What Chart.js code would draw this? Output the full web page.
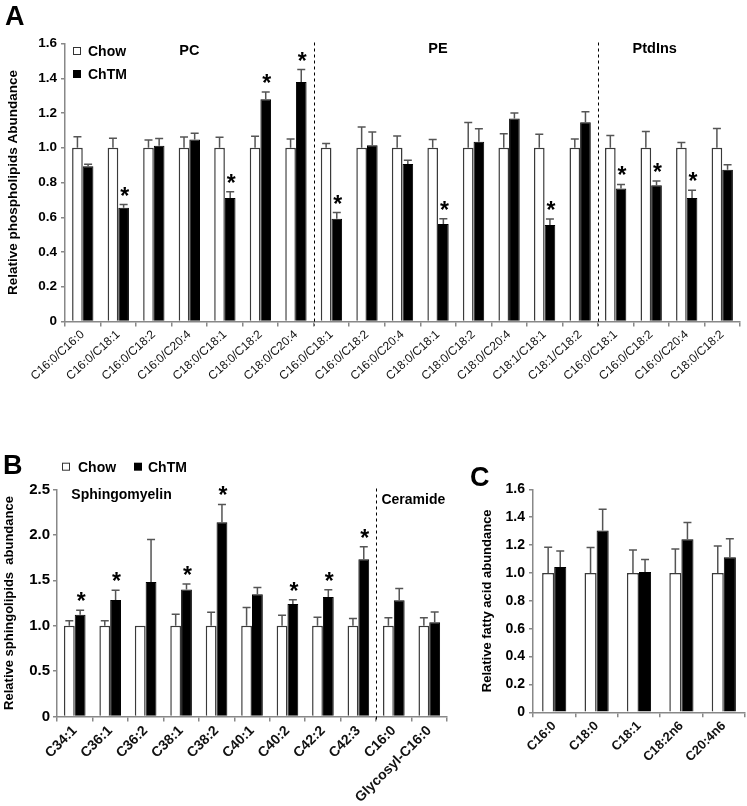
<!DOCTYPE html>
<html><head><meta charset="utf-8">
<script src="https://cdn.jsdelivr.net/npm/chart.js@4.4.0/dist/chart.umd.min.js"></script>
<style>
html,body{margin:0;padding:0;background:#fff;width:747px;height:806px;overflow:hidden;position:relative;}
canvas{position:absolute;}
.lbl{position:absolute;font:bold 27px "Liberation Sans",Arial,sans-serif;line-height:1;color:#000;}
</style></head><body>
<canvas id="cA" width="747" height="400" style="left:0;top:0"></canvas>
<canvas id="cB" width="480" height="366" style="left:0;top:440px"></canvas>
<canvas id="cC" width="277" height="366" style="left:470px;top:440px"></canvas>
<div class="lbl" style="left:5px;top:3px">A</div>
<div class="lbl" style="left:3px;top:452px">B</div>
<div class="lbl" style="left:470px;top:464px">C</div>
<script>
// ---------- Panel A: phospholipids ----------
const catsA = ['C16:0/C16:0','C16:0/C18:1','C16:0/C18:2','C16:0/C20:4','C18:0/C18:1','C18:0/C18:2','C18:0/C20:4',
  'C16:0/C18:1','C16:0/C18:2','C16:0/C20:4','C18:0/C18:1','C18:0/C18:2','C18:0/C20:4','C18:1/C18:1','C18:1/C18:2',
  'C16:0/C18:1','C16:0/C18:2','C16:0/C20:4','C18:0/C18:2'];
const chowA    = [1,1,1,1,1,1,1, 1,1,1,1,1,1,1,1, 1,1,1,1];
const chowErrA = [0.063,0.055,0.045,0.062,0.060,0.066,0.050, 0.025,0.120,0.068,0.047,0.146,0.080,0.078,0.050, 0.070,0.094,0.030,0.111];
const chtmA    = [0.893,0.655,1.012,1.048,0.711,1.279,1.378, 0.591,1.014,0.906,0.561,1.035,1.168,0.555,1.147, 0.766,0.784,0.711,0.874];
const chtmErrA = [0.012,0.018,0.041,0.036,0.036,0.042,0.072, 0.036,0.077,0.022,0.031,0.075,0.032,0.035,0.060, 0.023,0.024,0.044,0.028];
const sigA     = [0,1,0,0,1,1,1, 1,0,0,1,0,0,1,0, 1,1,1,0];
const groupsA  = ['PC','PE','PtdIns'];

// ---------- Panel B: sphingolipids ----------
const catsB    = ['C34:1','C36:1','C36:2','C38:1','C38:2','C40:1','C40:2','C42:2','C42:3','C16:0','Glycosyl-C16:0'];
const chowB    = [1,1,1,1,1,1,1,1,1,1,1];
const chowErrB = [0.055,0.055,0,0.125,0.147,0.200,0.114,0.092,0.080,0.088,0.088];
const chtmB    = [1.120,1.283,1.480,1.400,2.140,1.345,1.240,1.315,1.733,1.280,1.037];
const chtmErrB = [0.050,0.107,0.470,0.060,0.195,0.075,0.046,0.081,0.137,0.130,0.113];
const sigB     = [1,1,0,1,1,0,1,1,1,0,0];
const groupsB  = ['Sphingomyelin','Ceramide'];

// ---------- Panel C: fatty acids ----------
const catsC    = ['C16:0','C18:0','C18:1','C18:2n6','C20:4n6'];
const chowC    = [1,1,1,1,1];
const chowErrC = [0.184,0.182,0.165,0.172,0.194];
const chtmC    = [1.043,1.304,1.007,1.242,1.112];
const chtmErrC = [0.115,0.153,0.089,0.119,0.134];

const seriesNames = ['Chow','ChTM'];

const FF = '"Liberation Sans", Arial, Helvetica, sans-serif';

function overlay(o){
  return {
    id:'overlay',
    afterDatasetsDraw(chart){
      const ctx = chart.ctx, ys = chart.scales.y, xs = chart.scales.x, ca = chart.chartArea;
      ctx.save();
      // dividers
      ctx.strokeStyle = '#000'; ctx.lineWidth = 1; ctx.setLineDash([3,3]);
      (o.dividers||[]).forEach(k=>{
        const x = Math.round((xs.getPixelForValue(k-1)+xs.getPixelForValue(k))/2)+0.5;
        ctx.beginPath(); ctx.moveTo(x, ca.top-1); ctx.lineTo(x, ca.bottom+4); ctx.stroke();
      });
      ctx.setLineDash([]);
      // error bars
      chart.data.datasets.forEach((ds,i)=>{
        const meta = chart.getDatasetMeta(i);
        meta.data.forEach((bar,j)=>{
          const e = ds.errs[j]; if(!e) return;
          const yt = ys.getPixelForValue(ds.data[j]+e);
          ctx.strokeStyle = '#555'; ctx.lineWidth = 1.5;
          ctx.beginPath();
          ctx.moveTo(bar.x, bar.y); ctx.lineTo(bar.x, yt);
          ctx.moveTo(bar.x-4, yt); ctx.lineTo(bar.x+4, yt);
          ctx.stroke();
          if(ds.sig && ds.sig[j]){
            ctx.fillStyle = '#000';
            ctx.font = 'bold 23px '+FF;
            ctx.textAlign = 'center'; ctx.textBaseline = 'alphabetic';
            ctx.fillText('*', bar.x+1, yt-1);
          }
        });
      });
      // group labels
      ctx.fillStyle = '#000'; ctx.textBaseline = 'middle'; ctx.textAlign = 'center';
      (o.groups||[]).forEach(g=>{
        ctx.font = 'bold '+g.size+'px '+FF;
        ctx.fillText(g.text, xs.getPixelForValue(g.at), ca.top+g.dy);
      });
      // legend
      if(o.legend){
        ctx.font = 'bold 14px '+FF; ctx.textAlign='left'; ctx.textBaseline='middle';
        o.legend.forEach((L,i)=>{
          const s = 8;
          ctx.lineWidth = 1;
          if(i===0){ ctx.fillStyle='#fff'; ctx.fillRect(L.x, L.y-s/2, s, s); ctx.strokeStyle='#333'; ctx.strokeRect(L.x+0.5, L.y-s/2+0.5, s-1, s-1); }
          else { ctx.fillStyle='#000'; ctx.fillRect(L.x, L.y-s/2, s, s); }
          ctx.fillStyle='#000';
          ctx.fillText(seriesNames[i], L.tx, L.y+1);
        });
      }
      ctx.restore();
    }
  };
}

function build(id, o){
  return new Chart(document.getElementById(id), {
    type:'bar',
    data:{ labels:o.labels, datasets:[
      {label:seriesNames[0], data:o.chow, errs:o.chowErr, backgroundColor:'#fff', borderColor:'#3a3a3a', borderWidth:1.5,
       categoryPercentage:o.cp, barPercentage:1},
      {label:seriesNames[1], data:o.chtm, errs:o.chtmErr, sig:o.sig, backgroundColor:'#000', borderColor:'#000', borderWidth:1,
       categoryPercentage:o.cp, barPercentage:1}
    ]},
    options:{
      responsive:false, animation:false, devicePixelRatio:1,
      layout:{padding:o.pad},
      plugins:{legend:{display:false}, tooltip:{enabled:false}},
      scales:{
        x:{
          grid:{offset:true, drawOnChartArea:false, tickLength:5, color:'#888', lineWidth:1.5},
          border:{color:'#888', width:1.5},
          ticks:{color:'#111', font:o.xFont, minRotation:o.rot, maxRotation:o.rot, autoSkip:false, padding:1},
          afterFit(s){ s.height = o.xH; }
        },
        y:{
          min:0, max:o.max,
          grid:{drawOnChartArea:false, tickLength:4, color:'#888', lineWidth:1.5},
          border:{color:'#888', width:1.5},
          ticks:{stepSize:o.step, color:'#000', font:o.yFont, padding:o.yPad, callback:v=> v===0 ? '0' : v.toFixed(1)},
          title:{display:true, text:o.yTitle, color:'#000', font:o.tFont, padding:{top:o.tPad, bottom:0}},
          afterFit(s){ s.width = o.yW; }
        }
      }
    },
    plugins:[overlay(o)]
  });
}

build('cA', {
  labels:catsA, chow:chowA, chowErr:chowErrA, chtm:chtmA, chtmErr:chtmErrA, sig:sigA,
  cp:0.6, pad:{left:0, right:7, top:43.5, bottom:0}, xH:78.5, yW:65,
  rot:42, xFont:{family:FF, size:12}, max:1.6, step:0.2, yFont:{family:FF, size:13.5, weight:'bold'}, yPad:4,
  yTitle:'Relative phospholipids Abundance', tFont:{family:FF, size:13.5, weight:'bold'}, tPad:5,
  dividers:[7,15],
  groups:[{text:groupsA[0], at:3, dy:7, size:14.5},{text:groupsA[1], at:10, dy:5, size:14.5},{text:groupsA[2], at:16.1, dy:5, size:14.5}],
  legend:[{x:73, y:51, tx:88},{x:73, y:74, tx:88}]
});

build('cB', {
  labels:catsB, chow:chowB, chowErr:chowErrB, chtm:chtmB, chtmErr:chtmErrB, sig:sigB,
  cp:0.61, pad:{left:0, right:33, top:49.5, bottom:0}, xH:89.5, yW:57,
  rot:45, xFont:{family:FF, size:14, weight:'bold'}, max:2.5, step:0.5, yFont:{family:FF, size:15, weight:'bold'}, yPad:3,
  yTitle:'Relative sphingolipids  abundance', tFont:{family:FF, size:13, weight:'bold'}, tPad:2,
  dividers:[9],
  groups:[{text:groupsB[0], at:1.32, dy:6, size:14},{text:groupsB[1], at:9.55, dy:11, size:14}],
  legend:[{x:62, y:26.7, tx:78},{x:134, y:26.7, tx:148}]
});

build('cC', {
  labels:catsC, chow:chowC, chowErr:chowErrC, chtm:chtmC, chtmErr:chtmErrC, sig:null,
  cp:0.57, pad:{left:0, right:2, top:49.3, bottom:0}, xH:93.7, yW:63,
  rot:45, xFont:{family:FF, size:13, weight:'bold'}, max:1.6, step:0.2, yFont:{family:FF, size:14, weight:'bold'}, yPad:4,
  yTitle:'Relative fatty acid abundance', tFont:{family:FF, size:13, weight:'bold'}, tPad:10
});
</script>
</body></html>
